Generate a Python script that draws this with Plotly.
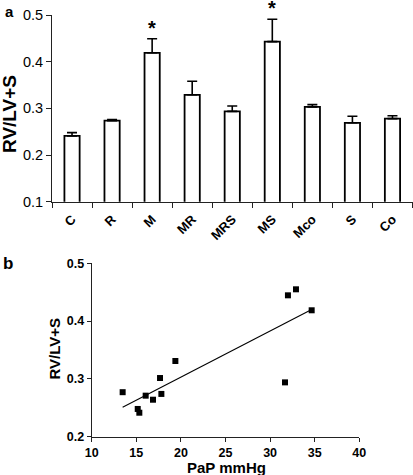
import numpy as np
import plotly.graph_objects as go

# Panel a data
groups = ["C", "R", "M", "MR", "MRS", "MS", "Mco", "S", "Co"]
ratio_mean = [0.241, 0.2736, 0.419, 0.329, 0.2936, 0.443, 0.303, 0.269, 0.278]
ratio_sem = [0.007, 0.0024, 0.030, 0.029, 0.0114, 0.048, 0.005, 0.014, 0.006]
significant = ["M", "MS"]

# Panel b data
pap_mmhg = [13.47, 15.16, 15.34, 16.05, 16.87, 17.66, 17.81, 19.38, 31.67, 32.0, 32.9, 34.66]
ratio_b = [0.277, 0.248, 0.2415, 0.271, 0.264, 0.3015, 0.274, 0.331, 0.294, 0.4446, 0.455, 0.4187]

FONT = "Arial, Liberation Sans, sans-serif"
W, H = 413, 475

pos = list(range(len(groups)))
bounds = [p - 0.5 for p in pos] + [pos[-1] + 0.5]

fig = go.Figure()

fig.add_trace(go.Bar(
    x=pos, y=ratio_mean,
    base=0,
    width=0.38,
    marker=dict(color="white", line=dict(color="black", width=1.8)),
    error_y=dict(type="data", symmetric=False, array=ratio_sem,
                 arrayminus=[0] * len(ratio_sem),
                 color="black", thickness=1.6, width=5),
    xaxis="x", yaxis="y", showlegend=False,
))

# regression line
slope, intercept = np.polyfit(pap_mmhg, ratio_b, 1)
xfit = np.array([min(pap_mmhg), max(pap_mmhg)])
fig.add_trace(go.Scatter(
    x=xfit, y=slope * xfit + intercept, mode="lines",
    line=dict(color="black", width=1.1),
    xaxis="x2", yaxis="y2", showlegend=False,
))
fig.add_trace(go.Scatter(
    x=pap_mmhg, y=ratio_b, mode="markers",
    marker=dict(symbol="square", size=6, color="black"),
    xaxis="x2", yaxis="y2", showlegend=False, cliponaxis=False,
))

annotations = []
for g in significant:
    i = groups.index(g)
    annotations.append(dict(
        x=pos[i], y=ratio_mean[i] + ratio_sem[i], xref="x", yref="y",
        text="<b>*</b>", showarrow=False, yanchor="bottom", yshift=-2,
        font=dict(family=FONT, size=20, color="black"),
    ))
annotations.append(dict(x=9 / W, y=1 - 11 / H, xref="paper", yref="paper",
                        text="<b>a</b>", showarrow=False, xanchor="center", yanchor="middle",
                        font=dict(family=FONT, size=15, color="black")))
annotations.append(dict(x=8 / W, y=1 - 263 / H, xref="paper", yref="paper",
                        text="<b>b</b>", showarrow=False, xanchor="center", yanchor="middle",
                        font=dict(family=FONT, size=17, color="black")))
# axis titles
annotations.append(dict(x=9 / W, y=1 - 114 / H, xref="paper", yref="paper",
                        text="<b>RV/LV+S</b>", textangle=-90, showarrow=False,
                        xanchor="center", yanchor="middle",
                        font=dict(family=FONT, size=19, color="black")))
annotations.append(dict(x=53.5 / W, y=1 - 349 / H, xref="paper", yref="paper",
                        text="<b>RV/LV+S</b>", textangle=-90, showarrow=False,
                        xanchor="center", yanchor="middle",
                        font=dict(family=FONT, size=15, color="black")))
annotations.append(dict(x=226.7 / W, y=1 - 467 / H, xref="paper", yref="paper",
                        text="<b>PaP mmHg</b>", showarrow=False,
                        xanchor="center", yanchor="middle",
                        font=dict(family=FONT, size=15, color="black")))

axis_common = dict(showgrid=False, zeroline=False, showline=True, linecolor="#222",
                   linewidth=1, tickcolor="#222", tickwidth=1, automargin=False)

fig.update_layout(
    template="none",
    width=W, height=H,
    margin=dict(l=0, r=0, t=0, b=0, autoexpand=False),
    paper_bgcolor="white", plot_bgcolor="white",
    font=dict(family=FONT, color="black"),
    annotations=annotations,
    xaxis=dict(domain=[52 / W, 412.5 / W], anchor="y",
               range=[bounds[0], bounds[-1]],
               tickmode="array", tickvals=pos, ticktext=groups, ticks="",
               tickangle=-45, ticklabelstandoff=4,
               tickfont=dict(family=FONT, size=13, weight="bold"),
               minor=dict(tickmode="array", tickvals=bounds, ticks="outside",
                          ticklen=5, tickcolor="#222", tickwidth=1, showgrid=False),
               **axis_common),
    yaxis=dict(domain=[1 - 201.7 / H, 1 - 15 / H], anchor="x", range=[0.1, 0.5],
               tickvals=[0.1, 0.2, 0.3, 0.4, 0.5], tickformat=".1f",
               ticks="outside", ticklen=5,
               tickfont=dict(family=FONT, size=14.5),
               **axis_common),
    xaxis2=dict(domain=[91.7 / W, 359.3 / W], anchor="y2", range=[10, 40],
                tickvals=[10, 15, 20, 25, 30, 35, 40], ticks="outside", ticklen=4,
                tickfont=dict(family=FONT, size=12.5, weight="bold"),
                **axis_common),
    yaxis2=dict(domain=[1 - 436.7 / H, 1 - 263.3 / H], anchor="x2", range=[0.2, 0.5],
                tickvals=[0.2, 0.3, 0.4, 0.5], tickformat=".1f",
                ticks="outside", ticklen=4,
                tickfont=dict(family=FONT, size=12.5, weight="bold"),
                **axis_common),
)

fig.write_html("out.html", config={"displayModeBar": False},
               post_script="document.body.style.margin='0';")
